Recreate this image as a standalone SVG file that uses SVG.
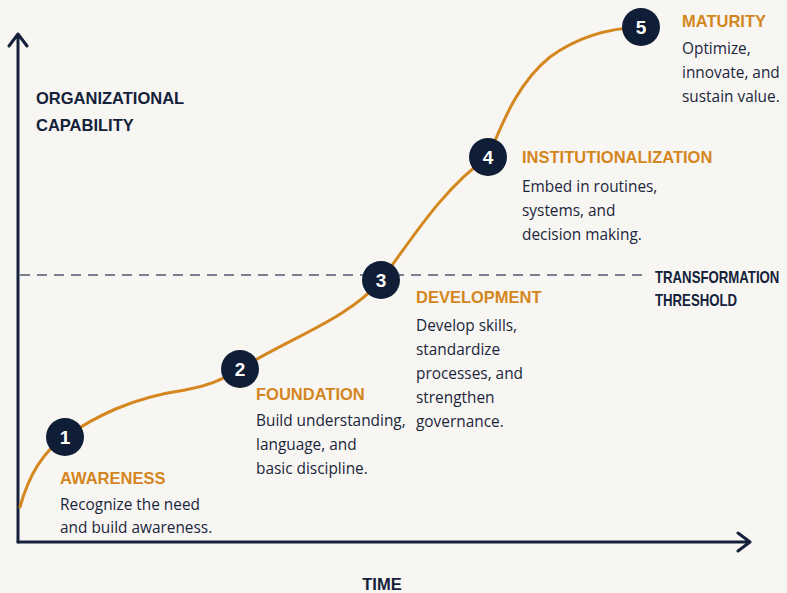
<svg xmlns="http://www.w3.org/2000/svg" width="787" height="593" viewBox="0 0 787 593">
  <style>
    .axis { fill: none; stroke: #14213a; stroke-width: 3; stroke-linecap: round; stroke-linejoin: round; }
    .curve { fill: none; stroke: #d4871f; stroke-width: 3; stroke-linecap: round; }
    .thresh { fill: none; stroke: #4f5b70; stroke-width: 1.6; stroke-dasharray: 10 7; }
    .axlabel { font-family: "Liberation Sans", Arial, sans-serif; font-weight: bold; font-size: 16.5px; fill: #14213a; }
    .dot { fill: #0f1d36; }
    .num { font-family: "Liberation Sans", Arial, sans-serif; font-weight: bold; font-size: 19px; fill: #ffffff; text-anchor: middle; }
    .title { font-family: "Liberation Sans", Arial, sans-serif; font-weight: bold; font-size: 16.5px; fill: #d4861e; }
    .body { font-family: "Open Sans", "Liberation Sans", sans-serif; font-size: 15.4px; fill: #1b263c; }
  </style>
  <rect width="787" height="593" fill="#f8f6f3"/>

  <g id="axes">
    <path class="axis" d="M18,542 V34 M9,46 L18,34 L27,46"/>
    <path class="axis" d="M18,542 H750 M738,533 L750,542 L738,551"/>
    <text class="axlabel" x="36" y="104">ORGANIZATIONAL</text>
    <text class="axlabel" x="36" y="131">CAPABILITY</text>
    <text class="axlabel" x="382" y="590" text-anchor="middle">TIME</text>
  </g>

  <g id="threshold">
    <line class="thresh" x1="20" y1="275" x2="645" y2="275"/>
    <!-- condensed horizontally so the label fits the right margin -->
    <g transform="translate(655,0) scale(0.8,1)">
      <text class="axlabel" x="0" y="283">TRANSFORMATION</text>
      <text class="axlabel" x="0" y="306">THRESHOLD</text>
    </g>
  </g>

  <g id="connectors">
    <path class="curve" d="M20,507 C28,478 42,452 65,437 C95,417 130,398 185,390 C210,386 226,378 240,369 C290,338 350,318 381,280 C405,250 440,190 488,157 C500,130 515,85 550,57 C580,35 615,28 641,27"/>
  </g>

  <g id="stage1">
    <circle class="dot" cx="65" cy="437" r="19"/>
    <text class="num" x="65" y="444">1</text>
    <text class="title" x="60" y="484">AWARENESS</text>
    <text class="body" x="60" y="510">Recognize the need</text>
    <text class="body" x="60" y="533">and build awareness.</text>
  </g>

  <g id="stage2">
    <circle class="dot" cx="240" cy="369" r="19"/>
    <text class="num" x="240" y="376">2</text>
    <text class="title" x="256" y="400">FOUNDATION</text>
    <text class="body" x="256" y="426">Build understanding,</text>
    <text class="body" x="256" y="450">language, and</text>
    <text class="body" x="256" y="474">basic discipline.</text>
  </g>

  <g id="stage3">
    <circle class="dot" cx="381" cy="280" r="19"/>
    <text class="num" x="381" y="287">3</text>
    <text class="title" x="416" y="303">DEVELOPMENT</text>
    <text class="body" x="416" y="331">Develop skills,</text>
    <text class="body" x="416" y="355">standardize</text>
    <text class="body" x="416" y="379">processes, and</text>
    <text class="body" x="416" y="403">strengthen</text>
    <text class="body" x="416" y="427">governance.</text>
  </g>

  <g id="stage4">
    <circle class="dot" cx="488" cy="157" r="19"/>
    <text class="num" x="488" y="164">4</text>
    <text class="title" x="522" y="163">INSTITUTIONALIZATION</text>
    <text class="body" x="522" y="192">Embed in routines,</text>
    <text class="body" x="522" y="216">systems, and</text>
    <text class="body" x="522" y="240">decision making.</text>
  </g>

  <g id="stage5">
    <circle class="dot" cx="641" cy="27" r="19"/>
    <text class="num" x="641" y="34">5</text>
    <text class="title" x="682" y="27">MATURITY</text>
    <text class="body" x="682" y="54">Optimize,</text>
    <text class="body" x="682" y="78">innovate, and</text>
    <text class="body" x="682" y="102">sustain value.</text>
  </g>
</svg>
